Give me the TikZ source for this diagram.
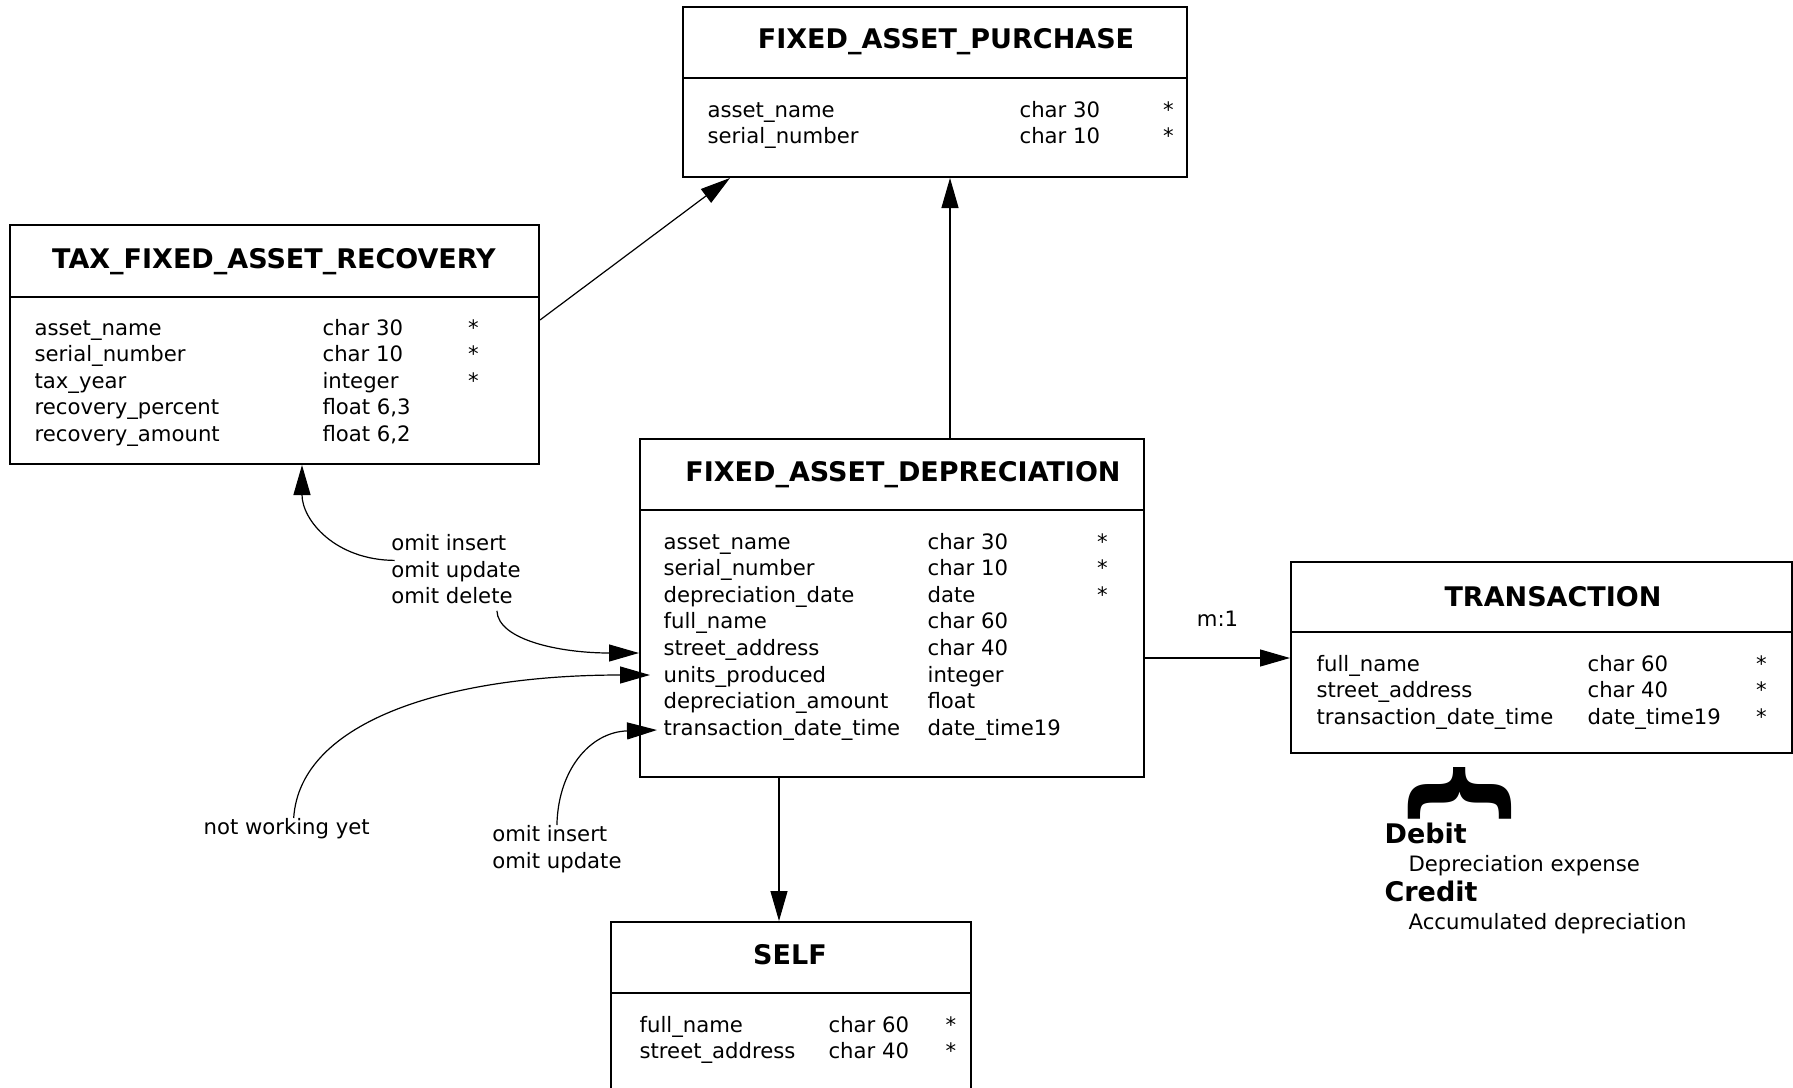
\documentclass[tikz,border=0pt]{standalone}
\usepackage{fontspec}
\setmainfont{DejaVu Sans}
\usetikzlibrary{positioning,arrows.meta,shapes,fit}
\tikzset{
	every picture/.style={/utils/exec={\fontsize{10.6}{13.3}\selectfont}},
	tbl/.style={draw, rectangle, line width=1pt, inner sep=0pt},
	hdr/.style={-, line width=1pt},
	ttl/.style={anchor=base, inner sep=0pt, font=\fontsize{13.5}{16}\selectfont\bfseries},
	rows/.style={anchor=base west, inner sep=0pt},
	note/.style={align=left, anchor=north west, inner sep=0pt},
}

\begin{document}
\begin{tikzpicture}[x=0.5pt, y=-0.5pt, ->, >={Triangle[length=15pt,width=8.5pt]}, line width=0.6pt]
			\useasboundingbox (0,0) rectangle (1793,1087);
			\clip (0,0) rectangle (1793,1087);

			\node[tbl, fit={(683,7) (1187,177)}] (fap) {};
			\draw[hdr] (fap.west |- 0,78) -- (fap.east |- 0,78);
			\node[ttl] (fap-t) at (946,48.7) {FIXED\_ASSET\_PURCHASE};
			\node[rows] (fap-r) at (707,117) {\begin{tabular}[t]{@{}p{156pt}@{}p{71.7pt}@{}l@{}}
				asset\_name & char 30 & * \\ serial\_number & char 10 & * \end{tabular}};

			\node[tbl, fit={(10,225) (539,464)}] (tax) {};
			\draw[hdr] (tax.west |- 0,297) -- (tax.east |- 0,297);
			\node[ttl] (tax-t) at (274,268) {TAX\_FIXED\_ASSET\_RECOVERY};
			\node[rows] (tax-r) at (34,335) {\begin{tabular}[t]{@{}p{144pt}@{}p{72.7pt}@{}l@{}}
				asset\_name & char 30 & * \\ serial\_number & char 10 & * \\ tax\_year & integer & * \\
				recovery\_percent & float 6,3 & \\ recovery\_amount & float 6,2 & \end{tabular}};

			\node[tbl, fit={(640,439) (1144,777)}] (fad) {};
			\draw[hdr] (fad.west |- 0,510) -- (fad.east |- 0,510);
			\node[ttl] (fad-t) at (903,481) {FIXED\_ASSET\_DEPRECIATION};
			\node[rows] (fad-r) at (663,549) {\begin{tabular}[t]{@{}p{132pt}@{}p{84.7pt}@{}l@{}}
				asset\_name & char 30 & * \\ serial\_number & char 10 & * \\ depreciation\_date & date & * \\
				full\_name & char 60 & \\ street\_address & char 40 & \\ units\_produced & integer & \\
				depreciation\_amount & float & \\ transaction\_date\_time & date\_time19 & \end{tabular}};

			\node[tbl, fit={(1291,562) (1792,753)}] (trans) {};
			\draw[hdr] (trans.west |- 0,632) -- (trans.east |- 0,632);
			\node[ttl] (trans-t) at (1553,606) {TRANSACTION};
			\node[rows] (trans-r) at (1316,671) {\begin{tabular}[t]{@{}p{135.5pt}@{}p{84.2pt}@{}l@{}}
				full\_name & char 60 & * \\ street\_address & char 40 & * \\
				transaction\_date\_time & date\_time19 & * \end{tabular}};

			\node[tbl, fit={(611,922) (971,1110)}] (self) {};
			\draw[hdr] (self.west |- 0,993) -- (self.east |- 0,993);
			\node[ttl] (self-t) at (790,964) {SELF};
			\node[rows] (self-r) at (639,1032) {\begin{tabular}[t]{@{}p{94.5pt}@{}p{58.5pt}@{}l@{}}
				full\_name & char 60 & * \\ street\_address & char 40 & * \end{tabular}};

			\node[inner sep=0pt, rotate=-90, font=\fontsize{56}{56}\selectfont\bfseries] (brace) at (1460,793) {\{};
			\node[rows, font=\fontsize{13.5}{16}\selectfont\bfseries] (debit) at (1384,843) {Debit};
			\node[rows] (dexp) at (1408,871.5) {Depreciation expense};
			\node[rows, font=\fontsize{13.5}{16}\selectfont\bfseries] (credit) at (1384,901.7) {Credit};
			\node[rows] (cexp) at (1408,929.3) {Accumulated depreciation};

			\node[note] (lab1) at (390.7,534) {omit insert\\omit update\\omit delete};
			\node[note] (lab2) at (203,818) {not working yet};
			\node[note] (lab3) at (491.7,825) {omit insert\\omit update};
			\coordinate (upc) at (650,675);
			\coordinate (tdt) at (657,730);

			\draw (tax.east |- 0,320) -- (fap.south -| 730,0);
			\draw (fad.north -| 950,0) -- (fap.south -| 950,0);
			\draw (fad.east |- 0,658) -- node[above=15.5pt, inner sep=0pt]{m:1} (trans.west |- 0,658);
			\draw (fad.south -| 779,0) -- (self.north -| 779,0);

			\draw ([shift={(2pt,4.5pt)}]lab1.west) .. controls (335,560) and (302,520) .. (tax.south -| 302,0);
			\draw ([shift={(20.5pt,-3pt)}]lab1.south) .. controls (498,640) and (560,653) .. (fad.west |- 0,653);
			\draw ([xshift=3.5pt]lab2.north) .. controls (300,720) and (450,675) .. (upc);
			\draw (lab3.north) .. controls (558,770) and (590,732) .. (tdt);
		\end{tikzpicture}
\end{document}
